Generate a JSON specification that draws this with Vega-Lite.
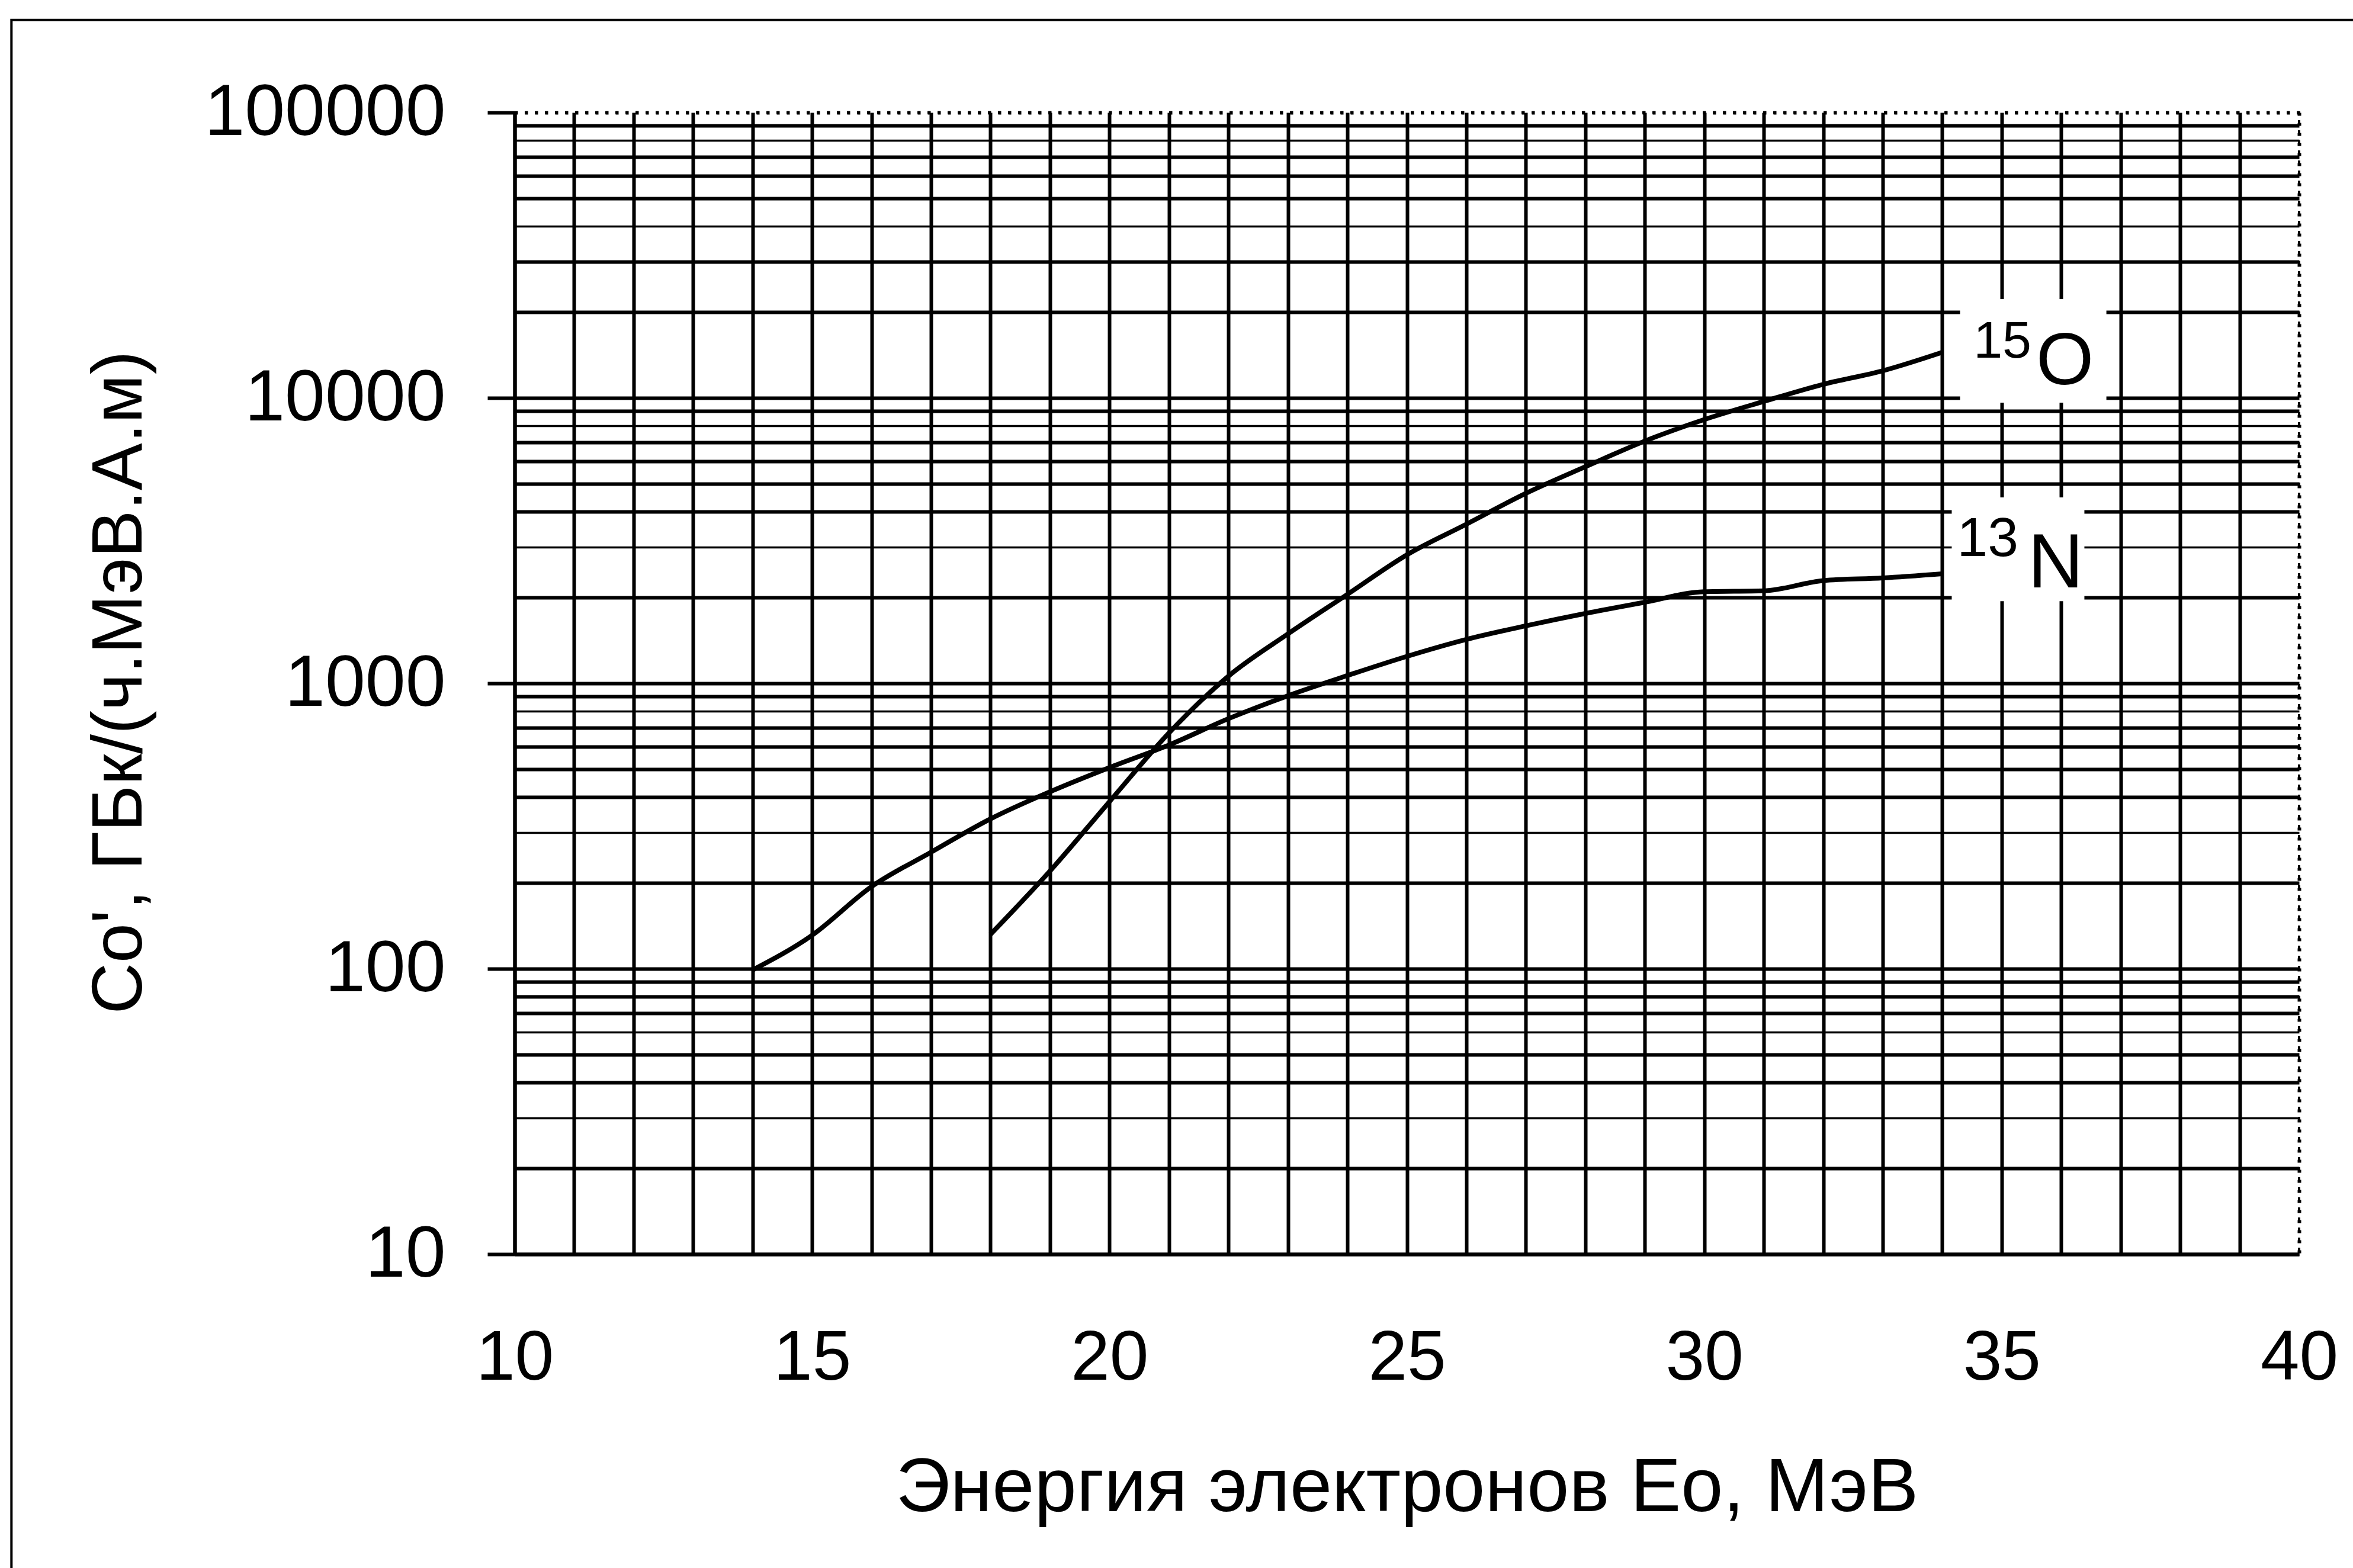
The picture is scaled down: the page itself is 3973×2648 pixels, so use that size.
{
  "$schema": "https://vega.github.io/schema/vega-lite/v6.json",
  "width": 3013,
  "height": 1928,
  "autosize": {"type": "none"},
  "padding": {"left": 869, "top": 190, "right": 91, "bottom": 530},
  "background": "white",
  "config": {
    "view": {"stroke": "black", "strokeWidth": 4, "strokeDash": [5, 12]},
    "font": "Liberation Sans"
  },
  "layer": [
    {
      "data": {
        "values": [
          {"E": 18, "C": 132, "iso": "15O"},
          {"E": 19, "C": 220, "iso": "15O"},
          {"E": 20, "C": 385, "iso": "15O"},
          {"E": 21, "C": 670, "iso": "15O"},
          {"E": 22, "C": 1060, "iso": "15O"},
          {"E": 23, "C": 1490, "iso": "15O"},
          {"E": 24, "C": 2050, "iso": "15O"},
          {"E": 25, "C": 2820, "iso": "15O"},
          {"E": 26, "C": 3610, "iso": "15O"},
          {"E": 27, "C": 4630, "iso": "15O"},
          {"E": 28, "C": 5740, "iso": "15O"},
          {"E": 29, "C": 7060, "iso": "15O"},
          {"E": 30, "C": 8400, "iso": "15O"},
          {"E": 31, "C": 9720, "iso": "15O"},
          {"E": 32, "C": 11160, "iso": "15O"},
          {"E": 33, "C": 12450, "iso": "15O"},
          {"E": 34, "C": 14450, "iso": "15O"},
          {"E": 14, "C": 99, "iso": "13N"},
          {"E": 15, "C": 131, "iso": "13N"},
          {"E": 16, "C": 194, "iso": "13N"},
          {"E": 17, "C": 256, "iso": "13N"},
          {"E": 18, "C": 335, "iso": "13N"},
          {"E": 19, "C": 417, "iso": "13N"},
          {"E": 20, "C": 507, "iso": "13N"},
          {"E": 21, "C": 608, "iso": "13N"},
          {"E": 22, "C": 752, "iso": "13N"},
          {"E": 23, "C": 905, "iso": "13N"},
          {"E": 24, "C": 1065, "iso": "13N"},
          {"E": 25, "C": 1243, "iso": "13N"},
          {"E": 26, "C": 1425, "iso": "13N"},
          {"E": 27, "C": 1590, "iso": "13N"},
          {"E": 28, "C": 1757, "iso": "13N"},
          {"E": 29, "C": 1923, "iso": "13N"},
          {"E": 30, "C": 2095, "iso": "13N"},
          {"E": 31, "C": 2110, "iso": "13N"},
          {"E": 32, "C": 2290, "iso": "13N"},
          {"E": 33, "C": 2340, "iso": "13N"},
          {"E": 34, "C": 2420, "iso": "13N"}
        ]
      },
      "mark": {"type": "line", "color": "black", "strokeWidth": 8, "strokeJoin": "round", "interpolate": "monotone"},
      "encoding": {
        "detail": {"field": "iso", "type": "nominal"},
        "x": {
          "field": "E",
          "type": "quantitative",
          "scale": {"domain": [10, 40], "nice": false, "zero": false},
          "axis": {
            "title": "Энергия электронов Ео, МэВ",
            "titleFont": "Liberation Sans",
            "titleFontSize": 128,
            "titleFontWeight": "normal",
            "titleColor": "black",
            "titleBaseline": "alphabetic",
            "titleY": 433,
            "values": [10,11,12,13,14,15,16,17,18,19,20,21,22,23,24,25,26,27,28,29,30,31,32,33,34,35,36,37,38,39,40],
            "format": "d",
            "labelExpr": "datum.value % 5 == 0 ? datum.label : ''",
            "labelFont": "Liberation Sans",
            "labelFontSize": 118,
            "labelColor": "black",
            "labelPadding": 118,
            "labelLimit": 2000,
            "labelFlush": false,
            "labelOverlap": false,
            "ticks": false,
            "tickSize": 0,
            "domain": true,
            "domainColor": "black",
            "domainWidth": 6,
            "grid": true,
            "gridColor": "black",
            "gridOpacity": 1,
            "gridWidth": 6,
            "gridDash": {"condition": {"test": "datum.value == 40", "value": [5, 12]}, "value": []}
          }
        },
        "y": {
          "field": "C",
          "type": "quantitative",
          "scale": {"type": "log", "domain": [10, 100000], "nice": false},
          "axis": {
            "title": "Co', ГБк/(ч.МэВ.А.м)",
            "titleFont": "Liberation Sans",
            "titleFontSize": 120,
            "titleFontWeight": "normal",
            "titleColor": "black",
            "titleBaseline": "alphabetic",
            "titleAngle": -90,
            "titleX": -631,
            "titleY": 962,
            "values": [10,20,30,40,50,60,70,80,90,100,200,300,400,500,600,700,800,900,1000,2000,3000,4000,5000,6000,7000,8000,9000,10000,20000,30000,40000,50000,60000,70000,80000,90000,100000],
            "format": "d",
            "labelExpr": "(datum.value == 10 || datum.value == 100 || datum.value == 1000 || datum.value == 10000 || datum.value == 100000) ? format(datum.value, 'd') : ''",
            "labelFont": "Liberation Sans",
            "labelFontSize": 122,
            "labelColor": "black",
            "labelPadding": 71,
            "labelLimit": 2000,
            "labelFlush": false,
            "labelOverlap": false,
            "ticks": true,
            "tickSize": 46,
            "tickWidth": 6,
            "tickColor": "black",
            "tickOpacity": {"condition": {"test": "datum.value == 10 || datum.value == 100 || datum.value == 1000 || datum.value == 10000 || datum.value == 100000", "value": 1}, "value": 0},
            "domain": true,
            "domainColor": "black",
            "domainWidth": 6,
            "grid": true,
            "gridColor": "black",
            "gridOpacity": 1,
            "gridWidth": {"condition": {"test": "datum.value == 80000 || datum.value == 40000 || datum.value == 8000 || datum.value == 3000 || datum.value == 800 || datum.value == 300 || datum.value == 60 || datum.value == 30", "value": 3.5}, "value": 6},
            "gridDash": {"condition": {"test": "datum.value == 100000", "value": [5, 12]}, "value": []}
          }
        }
      }
    },
    {
      "data": {"values": [{}]},
      "mark": {"type": "rect", "fill": "white", "stroke": null},
      "encoding": {
        "x": {"datum": 34.3},
        "x2": {"datum": 36.76},
        "y": {"datum": 9620},
        "y2": {"datum": 22200}
      }
    },
    {
      "data": {"values": [{}]},
      "mark": {"type": "rect", "fill": "white", "stroke": null},
      "encoding": {
        "x": {"datum": 34.16},
        "x2": {"datum": 36.39},
        "y": {"datum": 1940},
        "y2": {"datum": 4480}
      }
    },
    {
      "data": {"values": [{}]},
      "mark": {"type": "text", "text": "O", "font": "Liberation Sans", "fontSize": 125, "align": "left", "baseline": "alphabetic", "color": "black"},
      "encoding": {"x": {"datum": 35.58}, "y": {"datum": 11170}}
    },
    {
      "data": {"values": [{}]},
      "mark": {"type": "text", "text": "15", "font": "Liberation Sans", "fontSize": 88, "align": "right", "baseline": "alphabetic", "color": "black"},
      "encoding": {"x": {"datum": 35.5}, "y": {"datum": 13840}}
    },
    {
      "data": {"values": [{}]},
      "mark": {"type": "text", "text": "N", "font": "Liberation Sans", "fontSize": 130, "align": "left", "baseline": "alphabetic", "color": "black"},
      "encoding": {"x": {"datum": 35.44}, "y": {"datum": 2168}}
    },
    {
      "data": {"values": [{}]},
      "mark": {"type": "text", "text": "13", "font": "Liberation Sans", "fontSize": 93, "align": "right", "baseline": "alphabetic", "color": "black"},
      "encoding": {"x": {"datum": 35.28}, "y": {"datum": 2792}}
    },
    {
      "data": {"values": [{}]},
      "mark": {"type": "rect", "fillOpacity": 0, "stroke": "black", "strokeWidth": 4, "clip": false},
      "encoding": {
        "x": {"datum": 1.54},
        "x2": {"datum": 43},
        "y": {"datum": 211000},
        "y2": {"datum": 0.4}
      }
    }
  ]
}
